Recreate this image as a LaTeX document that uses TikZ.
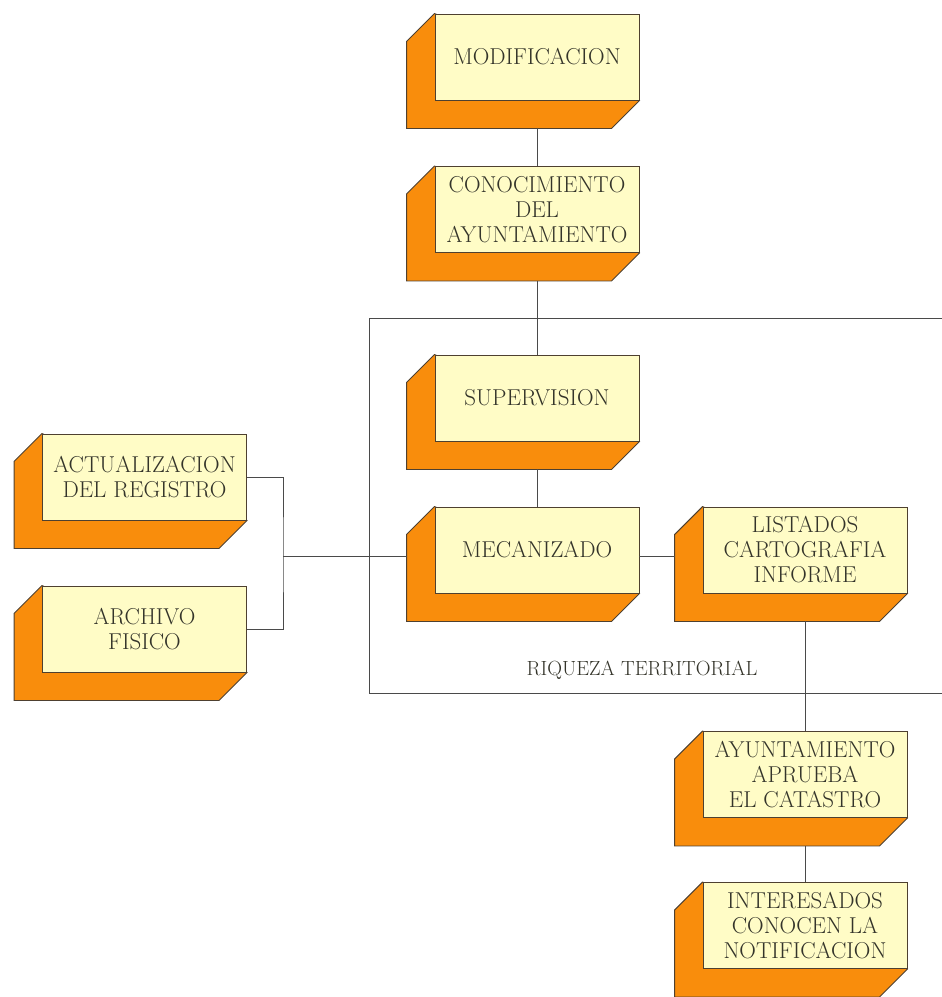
\documentclass[tikz,border=0pt]{standalone}
\usepackage{fontspec}
\usetikzlibrary{calc}
\pgfdeclarelayer{background}
\pgfsetlayers{background,main}
\definecolor{face}{HTML}{FFFCC6}
\definecolor{side}{HTML}{F98D0C}
\definecolor{outl}{HTML}{4E4030}
\definecolor{txt}{HTML}{34342A}
\definecolor{wire}{HTML}{4A4A4A}
\tikzset{
  block/.style={draw=outl, fill=face, line width=0.9pt, minimum width=204pt, minimum height=86pt,
    inner sep=0pt, align=center, text=txt, font=\fontsize{23}{25}\selectfont},
  extrude/.style={draw=outl, fill=side, line width=0.9pt, line join=miter},
  wireline/.style={draw=wire, line width=0.8pt},
  frameline/.style={draw=wire, line width=0.8pt},
  lbl/.style={text=txt, font=\fontsize{20.5}{24}\selectfont, inner sep=0pt}
}
\begin{document}
\begin{tikzpicture}[x=1pt,y=-1pt]
\useasboundingbox (0,0) rectangle (942,997);
% frame
\draw[frameline] (942,318) -- (369,318) -- (369,693) -- (942,693);
\node[lbl] (riq) at (642,670) {RIQUEZA TERRITORIAL};
% blocks
\node[block] (mod) at (537,57)    {MODIFICACION};
\node[block] (con) at (537,209.5) {CONOCIMIENTO\\DEL\\AYUNTAMIENTO};
\node[block] (sup) at (537,398)   {SUPERVISION};
\node[block] (mec) at (537,550)   {MECANIZADO};
\node[block] (act) at (144.5,477) {ACTUALIZACION\\DEL REGISTRO};
\node[block] (arc) at (144.5,629) {ARCHIVO\\FISICO};
\node[block] (lis) at (805,550)   {LISTADOS\\CARTOGRAFIA\\INFORME};
\node[block] (ayu) at (805,774.5) {AYUNTAMIENTO\\APRUEBA\\EL CATASTRO};
\node[block] (int) at (805,925.5) {INTERESADOS\\CONOCEN LA\\NOTIFICACION};
% extrusions behind
\begin{pgfonlayer}{background}
\foreach \n in {mod,con,sup,mec,act,arc,lis,ayu,int}{
  \path[extrude] (\n.north west) -- ([shift={(-28pt,-28pt)}]\n.north west)
    -- ([shift={(-28pt,-28pt)}]\n.south west) -- ([shift={(-28pt,-28pt)}]\n.south east)
    -- (\n.south east) -- cycle;
}
\end{pgfonlayer}
% connectors
\draw[wireline] ([yshift=-28pt]mod.south) -- (con.north);
\draw[wireline] ([yshift=-28pt]con.south) -- (sup.north);
\draw[wireline] ([yshift=-28pt]sup.south) -- (mec.north);
\draw[wireline] ([yshift=-6pt]mec.east) -- ([xshift=-28pt,yshift=-6pt]lis.west);
\draw[wireline] ([yshift=-28pt]lis.south) -- (ayu.north);
\draw[wireline] ([yshift=-28pt]ayu.south) -- (int.north);
\coordinate (j) at (283,556);
\draw[wireline] (act.east) -| (j) |- (arc.east);
\draw[wireline] (j) -- ([xshift=-28pt,yshift=-6pt]mec.west);
\end{tikzpicture}
\end{document}
